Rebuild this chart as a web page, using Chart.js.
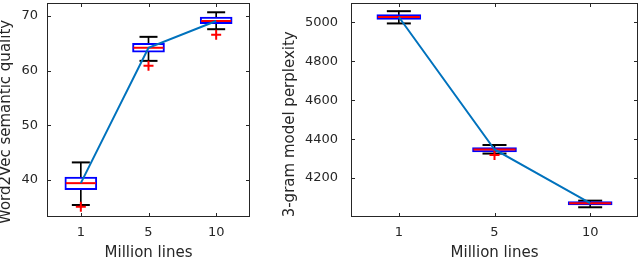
<!DOCTYPE html>
<html>
<head>
<meta charset="utf-8">
<script src="https://cdn.jsdelivr.net/npm/chart.js@4"></script>
<style>
html, body { margin: 0; padding: 0; overflow: hidden; background: #fff; }
#left { position: absolute; left: 0; top: 0; width: 280px; height: 264px; }
#right { position: absolute; left: 280px; top: 0; width: 360px; height: 264px; }
</style>
</head>
<body>
<div id="left"><canvas id="w2v"></canvas></div>
<div id="right"><canvas id="ppl"></canvas></div>
<script>
var lines = ['1', '5', '10']

// Word2Vec semantic quality, one box per corpus size
var w2vMedian = [39.4, 64.2, 69.1]
var w2vQ1 = [38.2, 63.4, 68.6]
var w2vQ3 = [40.5, 65.0, 69.8]
var w2vLow = [35.4, 61.8, 67.6]
var w2vHigh = [43.2, 66.2, 70.7]
var w2vOutliers = [35.1, 60.9, 66.6]
var w2vTicks = [40, 50, 60, 70]

// 3-gram model perplexity
var pplMedian = [5028, 4347, 4071]
var pplQ1 = [5015, 4335, 4062]
var pplQ3 = [5041, 4357, 4079]
var pplLow = [4995, 4326, 4050]
var pplHigh = [5058, 4370, 4084]
var pplOutliers = [null, 4319, null]
var pplTicks = [4200, 4400, 4600, 4800, 5000]

Chart.defaults.font.family = '"DejaVu Sans", sans-serif'
Chart.defaults.color = '#262626'

/**
 * Box around the plot area with small inward ticks on every side
 */
var framePlugin = {
    id: 'frame',
    afterDatasetsDraw(chart) {
        let ctx = chart.ctx
        let a = chart.chartArea
        let x = chart.scales.x
        let y = chart.scales.y
        ctx.save()
        ctx.strokeStyle = '#262626'
        ctx.lineWidth = 1
        ctx.strokeRect(Math.round(a.left) + 0.5, Math.round(a.top) + 0.5,
            Math.round(a.width) - 1, Math.round(a.height) - 1)
        ctx.beginPath()
        y.ticks.forEach(t => {
            let p = Math.round(y.getPixelForValue(t.value)) + 0.5
            ctx.moveTo(a.left, p); ctx.lineTo(a.left + 4, p)
            ctx.moveTo(a.right, p); ctx.lineTo(a.right - 4, p)
        })
        x.ticks.forEach((t, i) => {
            let p = Math.round(x.getPixelForTick(i)) + 0.5
            ctx.moveTo(p, a.bottom); ctx.lineTo(p, a.bottom - 4)
            ctx.moveTo(p, a.top); ctx.lineTo(p, a.top + 4)
        })
        ctx.stroke()
        ctx.restore()
    }
}

/**
 * Build the datasets that make up one boxplot panel
 */
function boxDatasets(s) {
    return [
        {type: 'line', data: s.median, borderColor: '#0072bd', borderWidth: 2, pointRadius: 0, order: 0},
        {type: 'line', data: s.outliers, showLine: false, pointStyle: 'cross', pointRadius: 5,
            pointBorderWidth: 2, pointBorderColor: '#ff0000', order: 1},
        {type: 'line', data: s.median, showLine: false, pointStyle: 'line', pointRadius: s.boxWidth / 2 - 1,
            pointBorderWidth: 2, pointBorderColor: '#ff0000', order: 2},
        {type: 'bar', data: lines.map((c, i) => [s.q1[i], s.q3[i]]), barThickness: s.boxWidth,
            backgroundColor: '#ffffff', borderColor: '#0000ff', borderWidth: 2, borderSkipped: false,
            grouped: false, order: 3},
        {type: 'line', data: s.high, showLine: false, pointStyle: 'line', pointRadius: s.capWidth / 2,
            pointBorderWidth: 2, pointBorderColor: '#000000', order: 4},
        {type: 'line', data: s.low, showLine: false, pointStyle: 'line', pointRadius: s.capWidth / 2,
            pointBorderWidth: 2, pointBorderColor: '#000000', order: 4},
        {type: 'bar', data: lines.map((c, i) => [s.low[i], s.high[i]]), barThickness: 1,
            backgroundColor: '#000000', borderWidth: 0, grouped: false, order: 5}
    ]
}

function createChart(id, s) {
    return new Chart(document.getElementById(id), {
        type: 'bar',
        data: {labels: lines, datasets: boxDatasets(s)},
        options: {
            responsive: true,
            maintainAspectRatio: false,
            animation: false,
            events: [],
            layout: {padding: s.padding, autoPadding: false},
            plugins: {legend: {display: false}, tooltip: {enabled: false}},
            scales: {
                x: {
                    grid: {display: false, drawTicks: false},
                    border: {display: false},
                    ticks: {font: {size: 13}, padding: 8},
                    title: {display: true, text: 'Million lines', font: {size: 15},
                        padding: {top: 0, bottom: 1.6}},
                    afterFit: axis => {
                        axis.height = 47
                        axis.paddingLeft = 0
                        axis.paddingRight = 0
                    }
                },
                y: {
                    min: s.min,
                    max: s.max,
                    grid: {display: false, drawTicks: false},
                    border: {display: false},
                    afterBuildTicks: axis => { axis.ticks = s.ticks.map(v => ({value: v})) },
                    afterFit: axis => {
                        axis.width = s.axisWidth
                        axis.paddingTop = 0
                        axis.paddingBottom = 0
                    },
                    ticks: {font: {size: 13}, padding: s.tickPad, callback: v => String(v)},
                    title: {display: true, text: s.title, font: {size: 15}, padding: s.titlePad}
                }
            }
        },
        plugins: [framePlugin]
    })
}

createChart('w2v', {
    median: w2vMedian, q1: w2vQ1, q3: w2vQ3, low: w2vLow, high: w2vHigh, outliers: w2vOutliers,
    ticks: w2vTicks, min: 33.2, max: 72.4, boxWidth: 32, capWidth: 18, axisWidth: 47,
    title: 'Word2Vec semantic quality     ', titlePad: {top: -2.5, bottom: 6}, tickPad: 9,
    padding: {left: 0, right: 30, top: 3, bottom: 0}
})

createChart('ppl', {
    median: pplMedian, q1: pplQ1, q3: pplQ3, low: pplLow, high: pplHigh, outliers: pplOutliers,
    ticks: pplTicks, min: 4000, max: 5100, boxWidth: 44, capWidth: 24, axisWidth: 71,
    title: '3-gram model perplexity      ', titlePad: {top: 1.5, bottom: 5.4}, tickPad: 13,
    padding: {left: 0, right: 2, top: 3, bottom: 0}
})
</script>
</body>
</html>
